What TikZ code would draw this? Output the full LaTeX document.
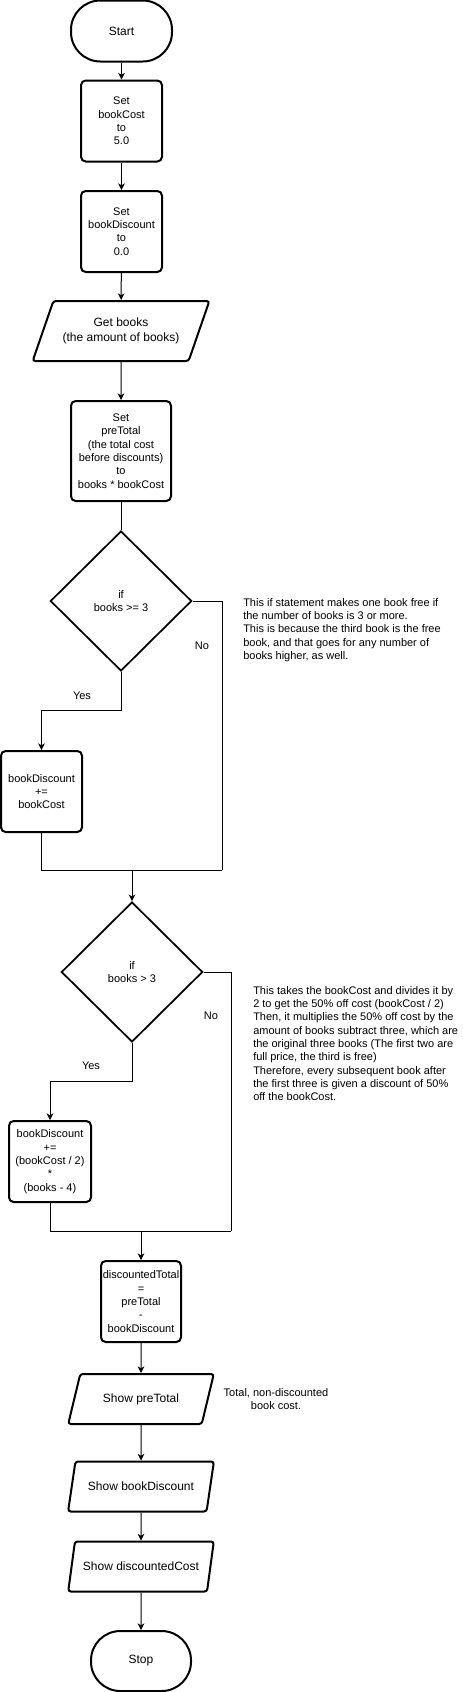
\documentclass[tikz,border=0pt]{standalone}
\usepackage{fontspec}
\setmainfont{Liberation Sans}
\usetikzlibrary{positioning,calc,shapes.geometric,arrows.meta}

\begin{document}
\begin{tikzpicture}[x=0.75pt,y=-0.75pt,
	txt/.style={font=\fontsize{8.25}{10}\selectfont, align=center},
	bigtxt/.style={font=\fontsize{9}{11.5}\selectfont, align=center},
	term/.style={draw, line width=1.5pt, rounded corners=22pt, minimum width=75.75pt, minimum height=45.75pt, bigtxt},
	proc/.style={draw, line width=1.5pt, rounded corners=3.5pt, minimum width=60.75pt, minimum height=60.75pt, inner sep=1pt, txt},
	io/.style={draw, line width=1.5pt, rounded corners=2pt, trapezium, trapezium left angle=56, trapezium right angle=124, trapezium stretches=true, minimum width=109.5pt, minimum height=37.5pt, inner sep=0pt, bigtxt},
	dec/.style={draw, line width=1.3pt, diamond, minimum width=106pt, minimum height=105pt, inner sep=0pt, txt},
	note/.style={txt, align=left, anchor=north west, inner sep=0pt},
	lbl/.style={txt, inner sep=0pt},
	link/.style={line width=0.75pt},
	flow/.style={link, -{Stealth[length=5pt,width=5pt,inset=1.5pt]}}]
	\useasboundingbox (0,0) rectangle (462,1692);

	% main column
	\node[term] (start) at (121.5,31) {Start};
	\node[proc] (setcost) at (121.5,121) {Set\\bookCost\\to\\5.0};
	\node[proc] (setdisc) at (121.5,231.5) {Set\\bookDiscount\\to\\0.0};
	\node[io, minimum width=132.75pt, minimum height=45pt] (getbooks) at (121,331) {Get books\\(the amount of books)};
	\node[proc, minimum width=75pt, minimum height=75pt] (settotal) at (121,451) {Set\\preTotal\\(the total cost\\before discounts)\\to\\books * bookCost};
	\node[dec] (ifthree) at (121,601) {if\\books >= 3};
	\node[proc] (addfree) at (41.5,791.5) {bookDiscount\\+=\\bookCost};
	\coordinate (merge1) at (132,870);
	\coordinate (bend1) at (222,870);
	\node[dec] (ifmore) at (132,972) {if\\books > 3};
	\node[proc, minimum width=61.5pt] (addhalf) at (50,1161.5) {bookDiscount\\+=\\(bookCost / 2)\\*\\(books - 4)};
	\coordinate (merge2) at (141,1231);
	\coordinate (bend2) at (231,1231);
	\node[proc, minimum width=60pt] (calcdisc) at (141,1301.5) {discountedTotal\\=\\preTotal\\-\\bookDiscount};
	\node[io] (showpre) at (141,1399) {Show preTotal};
	\node[io] (showdisc) at (141,1486.5) {Show bookDiscount};
	\node[io] (showcost) at (141,1566.5) {Show discountedCost};
	\node[term, minimum width=75pt, minimum height=45pt] (stop) at (141,1661) {Stop};

	% labels and notes
	\node[lbl] (yes1) at (82,696) {Yes};
	\node[lbl] (no1) at (202,646) {No};
	\node[lbl] (yes2) at (91,1066) {Yes};
	\node[lbl] (no2) at (211,1016) {No};
	\node[note] (note1) at (243,598) {This if statement makes one book free if\\the number of books is 3 or more.\\This is because the third book is the free\\book, and that goes for any number of\\books higher, as well.};
	\node[note] (note2) at (253,986) {This takes the bookCost and divides it by\\2 to get the 50\% off cost (bookCost / 2)\\Then, it multiplies the 50\% off cost by the\\amount of books subtract three, which are\\the original three books (The first two are\\full price, the third is free)\\Therefore, every subsequent book after\\the first three is given a discount of 50\%\\off the bookCost.};
	\node[txt] (note3) at (276,1399) {Total, non-discounted\\book cost.};

	% connectors
	\draw[flow] (start) -- (setcost);
	\draw[flow] (setcost) -- (setdisc);
	\draw[flow] (setdisc) -- (getbooks);
	\draw[flow] (getbooks) -- (settotal);
	\draw[link] (settotal) -- (ifthree);
	\draw[flow] (ifthree.south) -- ++(0,39) -| (addfree.north);
	\draw[link] (ifthree.east) -| (bend1);
	\draw[link] (addfree.south) |- (bend1);
	\draw[flow] (merge1) -- (ifmore.north);
	\draw[flow] (ifmore.south) -- ++(0,39) -| (addhalf.north);
	\draw[link] (ifmore.east) -| (bend2);
	\draw[link] (addhalf.south) |- (bend2);
	\draw[flow] (merge2) -- (calcdisc.north);
	\draw[flow] (calcdisc) -- (showpre);
	\draw[flow] (showpre) -- (showdisc);
	\draw[flow] (showdisc) -- (showcost);
	\draw[flow] (showcost) -- (stop);
\end{tikzpicture}
\end{document}
